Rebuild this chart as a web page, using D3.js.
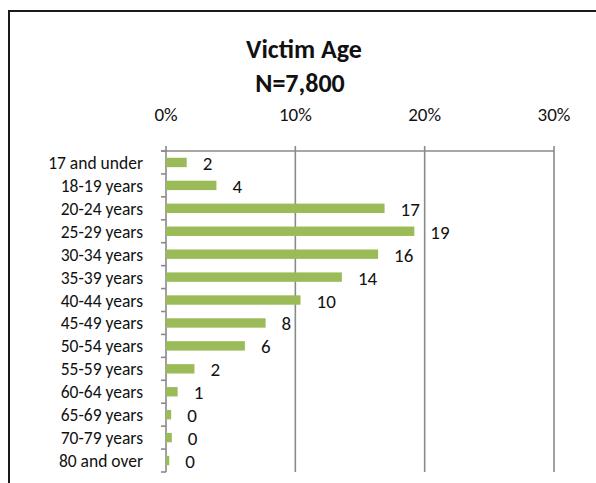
<!DOCTYPE html>
<html>
<head>
<meta charset="utf-8">
<script src="https://cdn.jsdelivr.net/npm/d3@7"></script>
<style>
  body { margin: 0; background: #fff; }
  svg { display: block; font-family: Carlito, Calibri, Lato, sans-serif; }
</style>
</head>
<body>
<div id="chart"></div>
<script>
const width = 596, height = 483;

// (percent of victims)
const ageGroups = ["17 and under", "18-19 years", "20-24 years", "25-29 years", "30-34 years",
  "35-39 years", "40-44 years", "45-49 years", "50-54 years", "55-59 years",
  "60-64 years", "65-69 years", "70-79 years", "80 and over"];
const pctValues = [1.6, 3.9, 16.9, 19.2, 16.4, 13.6, 10.4, 7.7, 6.1, 2.2, 0.9, 0.4, 0.45, 0.25];
const xTicks = [0, 10, 20, 30];

const margin = ({top: 151, right: 42, bottom: 11, left: 166});

const svg = d3.select("#chart")
  .append("svg")
  .attr("width", width)
  .attr("height", height);

// chart frame (runs off the right and bottom of the picture)
svg.append("rect")
  .attr("x", 9).attr("y", 11)
  .attr("width", 620).attr("height", 520)
  .attr("fill", "none")
  .attr("stroke", "#1a1a1a")
  .attr("stroke-width", 2);

svg.append("text")
  .text("Victim Age")
  .attr("x", 304).attr("y", 58)
  .attr("text-anchor", "middle")
  .attr("font-weight", "bold")
  .attr("font-size", 26)
  .attr("fill", "#111");

svg.append("text")
  .text("N=7,800")
  .attr("x", 300).attr("y", 92)
  .attr("text-anchor", "middle")
  .attr("font-weight", "bold")
  .attr("font-size", 26)
  .attr("fill", "#111");

let x = d3.scaleLinear()
  .domain([0, 30])
  .range([margin.left, width - margin.right]);

let y = d3.scaleBand()
  .domain(ageGroups)
  .range([margin.top, height - margin.bottom])
  .paddingInner(0.59)
  .paddingOuter(0.295);

const gridColor = "#8a8a8a";

// vertical gridlines + top ticks
svg.append("g")
  .selectAll("line")
  .data(xTicks)
  .join("line")
  .attr("x1", d => x(d)).attr("x2", d => x(d))
  .attr("y1", margin.top - 5).attr("y2", height - margin.bottom)
  .attr("stroke", gridColor)
  .attr("stroke-width", 1.6);

// top axis line
svg.append("line")
  .attr("x1", margin.left - 5).attr("x2", x(30))
  .attr("y1", margin.top).attr("y2", margin.top)
  .attr("stroke", gridColor)
  .attr("stroke-width", 1.6);

// category ticks on the left axis
const step = y.step();
svg.append("g")
  .selectAll("line")
  .data(d3.range(ageGroups.length + 1))
  .join("line")
  .attr("x1", margin.left - 5).attr("x2", margin.left)
  .attr("y1", i => margin.top + i * step).attr("y2", i => margin.top + i * step)
  .attr("stroke", gridColor)
  .attr("stroke-width", 1.6);

svg.append("g")
  .selectAll("text")
  .data(xTicks)
  .join("text")
  .text(d => d + "%")
  .attr("x", d => x(d))
  .attr("y", 121)
  .attr("text-anchor", "middle")
  .attr("font-size", 19)
  .attr("fill", "#111");

svg.append("g")
  .selectAll("text")
  .data(ageGroups)
  .join("text")
  .text(d => d)
  .attr("x", 143)
  .attr("y", d => y(d) + y.bandwidth() / 2)
  .attr("dy", "0.37em")
  .attr("text-anchor", "end")
  .attr("font-size", 17.5)
  .attr("fill", "#111");

let data = ageGroups.map((g, i) => ({group: g, pct: pctValues[i]}));

svg.append("g")
  .selectAll("rect")
  .data(data)
  .join("rect")
  .attr("x", x(0))
  .attr("y", d => y(d.group))
  .attr("width", d => x(d.pct) - x(0))
  .attr("height", y.bandwidth())
  .attr("fill", "#9bbb59");

svg.append("g")
  .selectAll("text")
  .data(data)
  .join("text")
  .text(d => Math.round(d.pct))
  .attr("x", d => x(d.pct) + 16)
  .attr("y", d => y(d.group) + y.bandwidth() / 2 + 7.5)
  .attr("font-size", 19)
  .attr("fill", "#111");
</script>
</body>
</html>
